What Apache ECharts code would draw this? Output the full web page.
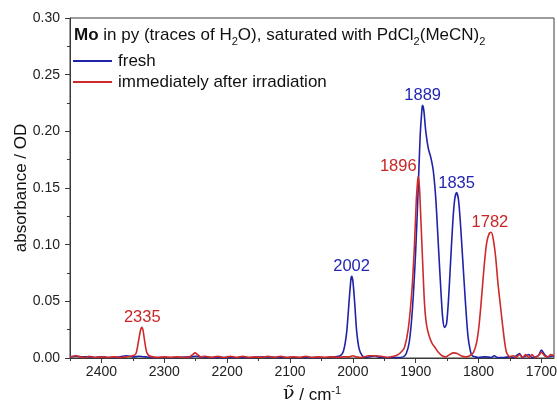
<!DOCTYPE html>
<html>
<head>
<meta charset="utf-8">
<script src="https://cdn.jsdelivr.net/npm/echarts@6/dist/echarts.min.js"></script>
<style>
html,body{margin:0;padding:0;background:#fff;}
#chart{width:557px;height:409px;}
</style>
</head>
<body>
<div id="chart"></div>
<script>
// wavenumber (cm-1), absorbance
var freshData = [
[2450,0.001],[2440,0.0015],[2430,0.001],[2420,0.001],[2410,0.0005],[2400,0.001],[2390,0.0005],[2380,0.0005],
[2370,0.001],[2360,0.002],[2350,0.001],[2340,0.0015],[2330,0.001],[2320,0.0005],[2300,0.0005],[2280,0.0005],
[2260,0.001],[2250,0.0015],[2240,0.001],[2220,0.0005],[2200,0.0005],[2180,0.0005],[2160,0.0005],[2140,0.001],
[2120,0.0005],[2100,0.0005],[2080,0.0005],[2060,0.0005],[2040,0.0005],[2030,0.001],[2020,0.002],[2015,0.006],
[2010,0.022],[2006,0.050],[2003,0.070],[2002,0.072],[2000,0.068],[1997,0.048],[1994,0.024],[1990,0.008],
[1985,0.002],[1980,0.0005],[1970,0.0015],[1965,0.002],[1960,0.001],[1950,0.0005],[1940,0.0005],[1930,0.0005],
[1920,0.001],[1915,0.004],[1910,0.015],[1905,0.045],[1900,0.095],[1896,0.150],[1893,0.195],[1890,0.220],
[1889,0.223],[1887,0.218],[1884,0.200],[1880,0.185],[1876,0.177],[1872,0.165],[1868,0.140],[1864,0.100],
[1860,0.060],[1857,0.035],[1854,0.027],[1851,0.030],[1848,0.050],[1845,0.080],[1841,0.120],[1838,0.140],
[1835,0.146],[1832,0.140],[1829,0.120],[1825,0.085],[1821,0.050],[1817,0.020],[1813,0.006],[1810,0.002],
[1805,0.001],[1800,0.0005],[1790,0.001],[1780,0.0005],[1775,0.002],[1770,0.0005],[1760,0.0005],[1750,0.001],
[1745,0.0005],[1740,0.002],[1735,0.004],[1730,0.0005],[1720,0.003],[1715,0.0005],[1705,0.002],[1700,0.007],
[1695,0.003],[1690,0.001],[1680,0.002]
];
var irradiatedData = [
[2450,0.001],[2440,0.002],[2435,0.001],[2425,0.0005],[2420,0.0015],[2410,0.0005],[2400,0.001],[2390,0.0005],
[2380,0.001],[2370,0.0005],[2360,0.001],[2350,0.002],[2345,0.004],[2341,0.015],[2338,0.024],[2336,0.027],
[2334,0.025],[2331,0.014],[2328,0.005],[2324,0.002],[2318,0.001],[2310,0.0005],[2300,0.001],[2290,0.0005],
[2280,0.001],[2270,0.0005],[2260,0.001],[2255,0.003],[2251,0.0045],[2247,0.003],[2242,0.001],[2235,0.0015],
[2225,0.0005],[2215,0.0015],[2205,0.0005],[2195,0.0015],[2185,0.0005],[2175,0.0015],[2165,0.0005],[2155,0.001],
[2145,0.0005],[2135,0.0015],[2125,0.0005],[2115,0.0015],[2105,0.0005],[2095,0.001],[2085,0.0005],[2075,0.0015],
[2065,0.0005],[2055,0.001],[2045,0.0005],[2035,0.001],[2025,0.0005],[2015,0.001],[2005,0.001],[2000,0.002],
[1995,0.001],[1985,0.0005],[1975,0.002],[1965,0.002],[1955,0.0015],[1945,0.0005],[1935,0.0015],[1928,0.003],
[1922,0.006],[1918,0.009],[1912,0.025],[1906,0.060],[1902,0.100],[1899,0.140],[1897,0.156],[1896,0.160],
[1894,0.150],[1892,0.125],[1889,0.085],[1886,0.048],[1883,0.030],[1879,0.020],[1874,0.013],[1869,0.009],
[1864,0.005],[1858,0.002],[1852,0.001],[1846,0.003],[1840,0.0045],[1834,0.004],[1828,0.002],[1820,0.001],
[1814,0.002],[1808,0.005],[1803,0.014],[1799,0.030],[1795,0.055],[1791,0.082],[1787,0.102],[1783,0.110],
[1780,0.111],[1777,0.106],[1773,0.090],[1769,0.065],[1765,0.045],[1762,0.030],[1758,0.012],[1755,0.004],
[1750,0.001],[1745,0.002],[1740,0.0005],[1735,0.003],[1730,0.0005],[1725,0.003],[1720,0.0005],[1715,0.003],
[1710,0.0005],[1705,0.002],[1700,0.005],[1695,0.002],[1690,0.001],[1685,0.003],[1680,0.002]
];
var freshPeaks = [[2002,0.072,'2002'],[1889,0.223,'1889'],[1835,0.146,'1835']];
var irradiatedPeaks = [[2335,0.027,'2335'],[1782,0.111,'1782']];
var irradiatedLeftPeaks = [[1896,0.160,'1896']];
var xMajorTicks = [1700,1800,1900,2000,2100,2200,2300,2400];
var xMinorTicks = [1750,1850,1950,2050,2150,2250,2350,2450];

var BLUE = '#1f23a8';
var RED = '#cf2a2a';
var BLUE_TXT = '#2226b0';
var RED_TXT = '#c82626';
var AX = '#3a3a3a';
var FONT = 'Liberation Sans, Arial, sans-serif';

function peakSeries(arr, color, extra) {
  return Object.assign({
    type: 'scatter',
    symbolSize: 0,
    silent: true,
    z: 5,
    itemStyle: { opacity: 1 },
    data: arr.map(function (p) { return { value: [p[0], p[1]], name: p[2] }; }),
    label: {
      show: true, position: 'top', distance: 1, formatter: '{b}', opacity: 1,
      color: color, fontSize: 16.5, fontFamily: FONT
    }
  }, extra || {});
}

var chart = echarts.init(document.getElementById('chart'), null, { renderer: 'canvas' });
chart.setOption({
  animation: false,
  backgroundColor: '#fff',
  textStyle: { fontFamily: FONT },
  title: {
    left: 74, top: 24, padding: 0,
    text: '{b|Mo}{n| in py (traces of H}{s|2}{n|O), saturated with PdCl}{s|2}{n|(MeCN)}{s|2}',
    textStyle: {
      fontWeight: 'normal',
      rich: {
        b: { fontWeight: 'bold', fontSize: 17, color: '#111', fontFamily: FONT, lineHeight: 20, verticalAlign: 'bottom' },
        n: { fontWeight: 'normal', fontSize: 17, color: '#111', fontFamily: FONT, lineHeight: 20, verticalAlign: 'bottom' },
        s: { fontWeight: 'normal', fontSize: 11, color: '#111', fontFamily: FONT, lineHeight: 20, verticalAlign: 'bottom', padding: [0, 0, -3, 0] }
      }
    }
  },
  legend: {
    orient: 'vertical', left: 73, top: 52, padding: 0,
    itemWidth: 39, itemHeight: 2, itemGap: 3, icon: 'rect',
    data: ['fresh', 'immediately after irradiation'],
    textStyle: { fontSize: 17, color: '#111', fontFamily: FONT, lineHeight: 18, padding: [0, 0, 0, 1] }
  },
  grid: [{ left: 70, right: 3, top: 18, bottom: 51, show: true, borderColor: AX, borderWidth: 1,
    backgroundColor: 'transparent', containLabel: false, outerBoundsMode: 'none' }],
  xAxis: [{
    type: 'value', inverse: true, min: 1680, max: 2450,
    name: '{v|ν̃}{n| / cm}{s|-1}', nameLocation: 'middle', nameGap: 26,
    nameTextStyle: {
      rich: {
        v: { fontSize: 19, fontFamily: 'DejaVu Serif, serif', color: '#111', verticalAlign: 'bottom', lineHeight: 20 },
        n: { fontSize: 17, fontFamily: FONT, color: '#111', verticalAlign: 'bottom', lineHeight: 20 },
        s: { fontSize: 11, fontFamily: FONT, color: '#111', verticalAlign: 'bottom', lineHeight: 20, padding: [0, 0, 8, 0] }
      }
    },
    axisLine: { show: true, onZero: false, lineStyle: { color: AX, width: 1 } },
    axisTick: { show: true, customValues: xMajorTicks, length: 5, lineStyle: { color: AX } },
    axisLabel: { customValues: xMajorTicks, fontSize: 14, color: '#222', margin: 7, fontFamily: FONT,
      formatter: function (v) { return String(v); } },
    splitLine: { show: false }
  }, {
    type: 'value', inverse: true, min: 1680, max: 2450, position: 'bottom',
    axisLine: { show: false },
    axisTick: { show: true, customValues: xMinorTicks, length: 3, lineStyle: { color: AX } },
    axisLabel: { show: false, customValues: xMinorTicks },
    splitLine: { show: false }
  }],
  yAxis: {
    type: 'value', min: 0, max: 0.3, interval: 0.05,
    name: 'absorbance / OD', nameLocation: 'middle', nameGap: 40, nameMoveOverlap: false,
    nameTextStyle: { fontSize: 17, color: '#111', fontFamily: FONT },
    axisLine: { show: true, lineStyle: { color: AX, width: 1 } },
    axisTick: { show: true, length: 5, lineStyle: { color: AX } },
    minorTick: { show: true, splitNumber: 2, length: 3, lineStyle: { color: AX } },
    axisLabel: { fontSize: 14, color: '#222', margin: 10, fontFamily: FONT,
      formatter: function (v) { return v.toFixed(2); } },
    splitLine: { show: false },
    minorSplitLine: { show: false }
  },
  series: [
    { name: 'fresh', type: 'line', data: freshData, showSymbol: false, smooth: 0.25,
      lineStyle: { color: BLUE, width: 1.6 }, itemStyle: { color: BLUE }, z: 2 },
    { name: 'immediately after irradiation', type: 'line', data: irradiatedData, showSymbol: false, smooth: 0.25,
      lineStyle: { color: RED, width: 1.6 }, itemStyle: { color: RED }, z: 3 },
    peakSeries(freshPeaks, BLUE_TXT),
    peakSeries(irradiatedPeaks, RED_TXT),
    peakSeries(irradiatedLeftPeaks, RED_TXT, {
      label: { show: true, position: 'top', distance: 2, offset: [-20, 0], formatter: '{b}', opacity: 1,
        color: RED_TXT, fontSize: 16.5, fontFamily: FONT }
    })
  ]
});
</script>
</body>
</html>
